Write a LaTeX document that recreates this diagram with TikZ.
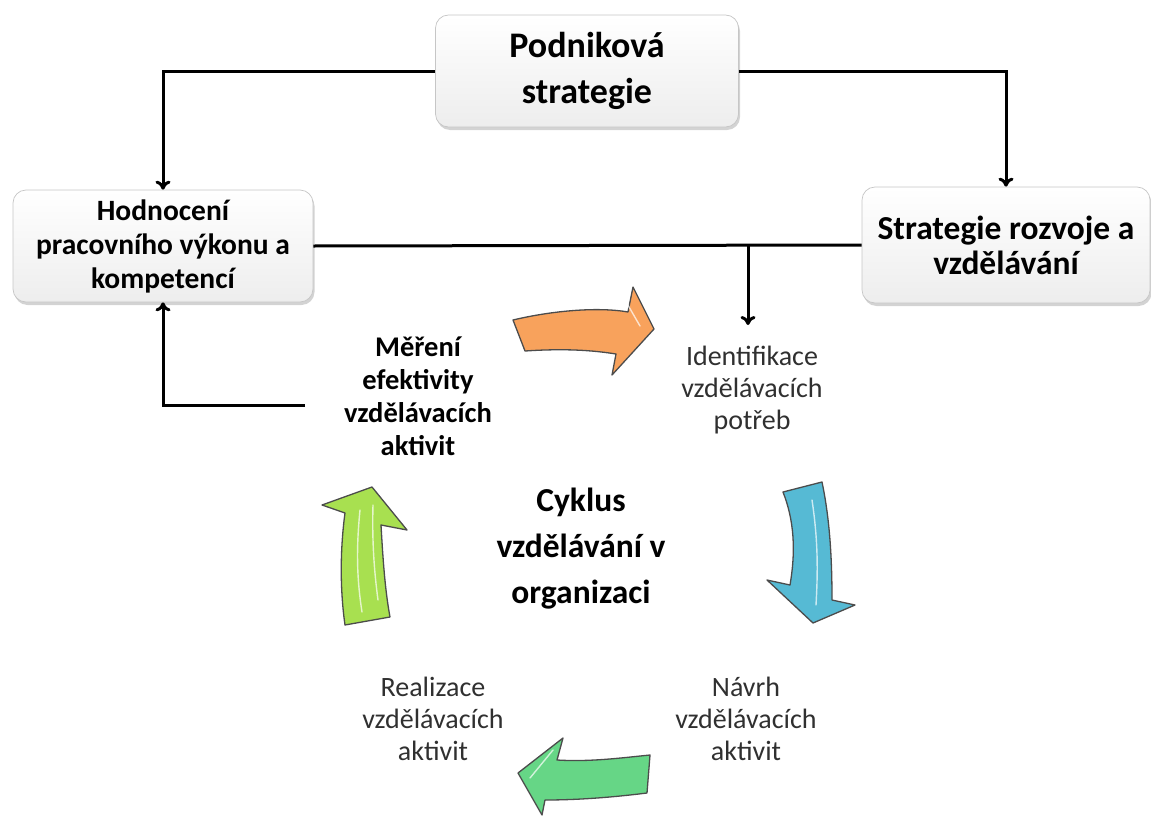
\documentclass[tikz,border=0pt]{standalone}
\usepackage{fontspec}
\setmainfont{Carlito}
\usetikzlibrary{arrows.meta,shadows}
\definecolor{cyorange}{RGB}{248,162,92}
\definecolor{cyblue}{RGB}{86,186,212}
\definecolor{cygreen}{RGB}{102,214,134}
\definecolor{cylime}{RGB}{168,224,80}
\definecolor{cytext}{RGB}{48,48,48}
\begin{document}
\begin{tikzpicture}[x=1pt,y=-1pt,
  box/.style={draw=gray!45,line width=0.7pt,rounded corners=13pt,
    top color=white,bottom color=gray!14,align=center,inner sep=2pt,
    drop shadow={opacity=0.35,shadow xshift=1.5pt,shadow yshift=-3pt}},
  link/.style={line width=3pt,-{To[length=9pt,width=15pt]}},
  stage/.style={align=center,text=cytext,font=\fontsize{28}{32}\selectfont},
  cyarrow/.style={draw=black!70,line width=1.3pt,line join=round},
  gloss/.style={white,line width=1.4pt,opacity=0.7,line cap=round}]
  \useasboundingbox (0,0) rectangle (1151,819);
  % Strategy boxes
  \node[box,minimum width=303pt,minimum height=112pt,
    font=\bfseries\fontsize{36}{46}\selectfont] (strat) at (587,71) {Podniková\\strategie};
  \node[box,minimum width=300pt,minimum height=112pt,
    font=\bfseries\fontsize{29.5}{34}\selectfont] (assess) at (163,246)
    {Hodnocení\\pracovního výkonu a\\kompetencí};
  \node[box,minimum width=288pt,minimum height=116pt,
    font=\bfseries\fontsize{33.5}{35}\selectfont] (devstrat) at (1006,245)
    {Strategie rozvoje a\\vzdělávání};
  % Cycle texts
  \node[stage,text=black,font=\bfseries\fontsize{28.5}{33}\selectfont] (measure) at (418,396)
    {Měření\\efektivity\\vzdělávacích\\aktivit};
  \node[stage] (ident) at (752,390) {Identifikace\\vzdělávacích\\potřeb};
  \node[stage] (design) at (746,719) {Návrh\\vzdělávacích\\aktivit};
  \node[stage] (realize) at (433,719) {Realizace\\vzdělávacích\\aktivit};
  \node[align=center,font=\bfseries\fontsize{33.5}{46}\selectfont] (cycle) at (581,549)
    {Cyklus\\vzdělávání v\\organizaci};
  % Connectors
  \coordinate (split) at (748,246);
  \coordinate (identin) at (748,325);
  \coordinate (mout) at (305,405);
  \draw[link] (strat.west) -| (assess.north);
  \draw[link] (strat.east) -| (devstrat.north);
  \draw[line width=3pt] (assess.east) -- (devstrat.west);
  \draw[link] (split) -- (identin);
  \draw[link] (mout) -| (assess.south);
  % Orange arrow
  \filldraw[cyarrow,fill=cyorange] (513,320) .. controls (555,310) and (600,307) .. (628,312)
    -- (633,287) -- (654,329) -- (612,375) -- (616,354)
    .. controls (585,349) and (555,349) .. (525,351) -- cycle;
  \draw[gloss] (625,300) -- (640,326);
  % Blue arrow
  \filldraw[cyarrow,fill=cyblue] (783,492) -- (822,482) .. controls (830,520) and (832,560) .. (832,600)
    -- (855,605) -- (813,623) -- (767,580) -- (790,585)
    .. controls (796,550) and (794,520) .. cycle;
  \draw[gloss] (812,500) .. controls (818,540) and (818,570) .. (816,605);
  % Green arrow
  \filldraw[cyarrow,fill=cygreen] (518,773) -- (563,738) -- (557,760)
    .. controls (590,762) and (620,758) .. (650,755) -- (647,793)
    .. controls (615,797) and (580,800) .. (545,800) -- (542,815) -- cycle;
  \draw[gloss] (530,778) -- (553,750);
  % Lime arrow
  \filldraw[cyarrow,fill=cylime] (372,487) -- (407,530) -- (381,525)
    .. controls (383,560) and (385,590) .. (390,617) -- (345,625)
    .. controls (340,590) and (340,550) .. (345,513) -- (322,505) -- cycle;
  \draw[gloss] (360,510) .. controls (356,550) and (357,580) .. (362,612);
  \draw[gloss] (373,505) .. controls (372,540) and (374,570) .. (378,600);
\end{tikzpicture}
\end{document}
